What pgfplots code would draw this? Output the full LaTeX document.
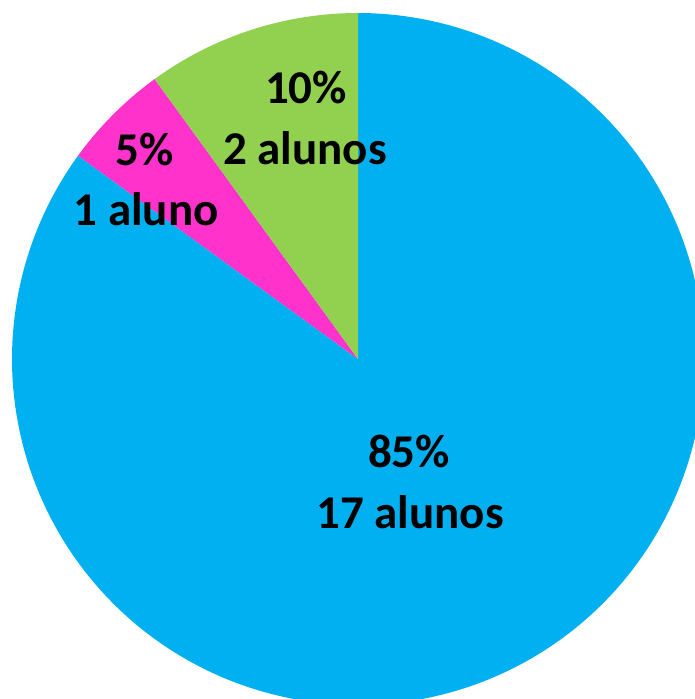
\documentclass[border=0pt]{standalone}
\usepackage{pgfplots}
\usepackage{pgfplotstable}
\usepackage{fontspec}
\setmainfont{Carlito}
\pgfplotsset{compat=1.18}

\definecolor{azul}{HTML}{00B0F0}
\definecolor{rosa}{HTML}{FF33CC}
\definecolor{verde}{HTML}{92D050}

% alunos por categoria (clockwise from the top)
\pgfplotstableread{
cat count
azul 17
rosa 1
verde 2
}\pietable

\pgfplotstablegetelem{0}{count}\of\pietable \let\nA\pgfplotsretval
\pgfplotstablegetelem{1}{count}\of\pietable \let\nB\pgfplotsretval
\pgfplotstablegetelem{2}{count}\of\pietable \let\nC\pgfplotsretval
\pgfmathsetmacro{\tot}{\nA+\nB+\nC}
% angles (math convention, slices run clockwise from 90 deg)
\pgfmathsetmacro{\aA}{90-360*\nA/\tot}
\pgfmathsetmacro{\aB}{\aA-360*\nB/\tot}
\pgfmathsetmacro{\aC}{\aB-360*\nC/\tot}
\def\cx{358}\def\cy{359}\def\rr{346}

\begin{document}
\begin{tikzpicture}
\begin{axis}[
  name=pie,
  scale only axis,
  width=695pt, height=699pt,
  xmin=0, xmax=695, ymin=0, ymax=699,
  y dir=reverse,
  hide axis,
  clip=true,
]
\addplot[draw=none, fill=azul, domain=\aA:90, samples=300, variable=\t]
  ({\cx+\rr*cos(t)}, {\cy-\rr*sin(t)}) -- (axis cs:\cx,\cy) -- cycle;
\addplot[draw=none, fill=rosa, domain=\aB:\aA, samples=40, variable=\t]
  ({\cx+\rr*cos(t)}, {\cy-\rr*sin(t)}) -- (axis cs:\cx,\cy) -- cycle;
\addplot[draw=none, fill=verde, domain=\aC:\aB, samples=60, variable=\t]
  ({\cx+\rr*cos(t)}, {\cy-\rr*sin(t)}) -- (axis cs:\cx,\cy) -- cycle;

\begin{scope}[every node/.style={anchor=base, inner sep=0pt, font=\fontsize{47}{60}\selectfont\bfseries}]
\node at (axis cs:409,467) {85\%};
\node at (axis cs:410,528) {17 alunos};
\node at (axis cs:145,165) {5\%};
\node at (axis cs:146,225) {1 aluno};
\node at (axis cs:306,103) {10\%};
\node at (axis cs:305,164) {2 alunos};
\end{scope}
\end{axis}
% keep the whole axis box as the page
\path (pie.south west) rectangle (pie.north east);
\end{tikzpicture}
\end{document}
